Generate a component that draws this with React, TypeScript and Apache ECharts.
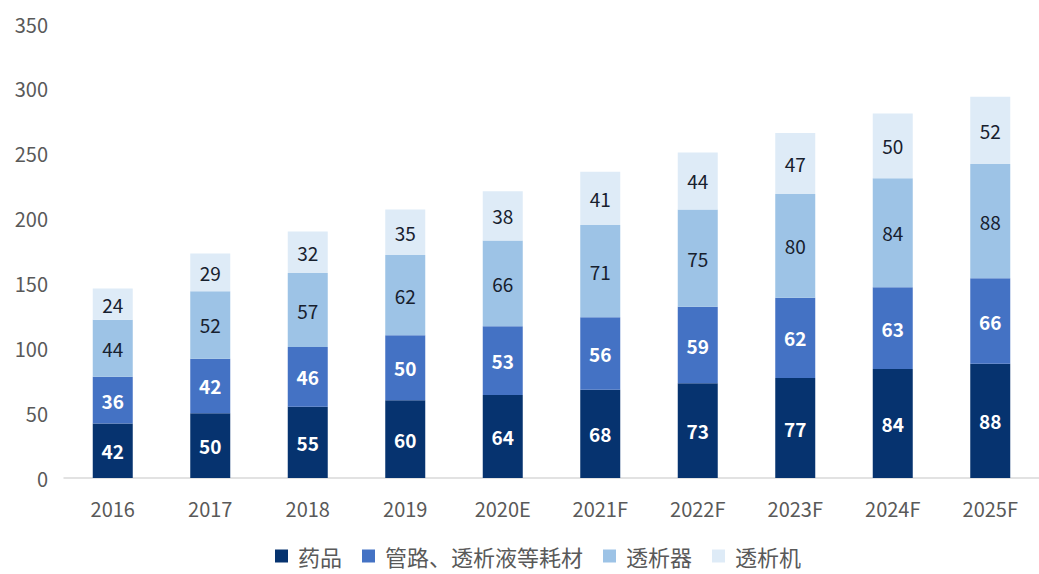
import React, { useEffect, useRef } from "react";
import * as echarts from "echarts";

const categories = ["2016", "2017", "2018", "2019", "2020E", "2021F", "2022F", "2023F", "2024F", "2025F"];
const seriesNames = ["药品", "管路、透析液等耗材", "透析器", "透析机"];
const drugs = [42, 50, 55, 60, 64, 68, 73, 77, 84, 88];
const consumables = [36, 42, 46, 50, 53, 56, 59, 62, 63, 66];
const dialyzers = [44, 52, 57, 62, 66, 71, 75, 80, 84, 88];
const machines = [24, 29, 32, 35, 38, 41, 44, 47, 50, 52];
const colors = ["#06336f", "#4472c4", "#9dc3e6", "#deebf7"];
const labelColors = ["#ffffff", "#ffffff", "#17202e", "#17202e"];
const labelWeights = ["bold", "bold", "normal", "normal"];

const FONT = "'Noto Sans CJK SC', 'Noto Sans', sans-serif";

export default function App() {
  const ref = useRef<HTMLDivElement>(null);
  useEffect(() => {
    if (!ref.current) return;
    const chart = echarts.init(ref.current, undefined, { renderer: "svg" });
    const data = [drugs, consumables, dialyzers, machines];
    chart.setOption({
      animation: false,
      textStyle: { fontFamily: FONT },
      grid: { left: 64, right: -8, top: 24, bottom: 96 },
      legend: {
        top: 539,
        left: 270,
        itemWidth: 13,
        itemHeight: 13,
        itemGap: 20,
        icon: "rect",
        textStyle: {
          fontSize: 22,
          lineHeight: 24,
          color: "#595959",
          fontFamily: FONT,
          padding: [0, 0, 0, 5],
        },
        data: seriesNames,
      },
      xAxis: {
        type: "category",
        data: categories,
        axisLine: { lineStyle: { color: "#d9d9d9", width: 1.5 } },
        axisTick: { show: false },
        axisLabel: { fontSize: 20, color: "#595959", margin: 20, fontFamily: FONT },
      },
      yAxis: {
        type: "value",
        min: 0,
        max: 350,
        interval: 50,
        splitLine: { show: false },
        axisLine: { show: false },
        axisTick: { show: false },
        axisLabel: { fontSize: 20, color: "#595959", margin: 16, fontFamily: FONT },
      },
      series: seriesNames.map((name, i) => ({
        name,
        type: "bar",
        stack: "total",
        barWidth: 40,
        data: data[i],
        itemStyle: { color: colors[i] },
        label: {
          show: true,
          position: "inside",
          fontSize: 19,
          color: labelColors[i],
          fontWeight: labelWeights[i],
          fontFamily: FONT,
        },
      })),
    });
    return () => chart.dispose();
  }, []);
  return (
    <div
      ref={ref}
      style={{ position: "absolute", left: 0, top: 0, width: 1039, height: 574, overflow: "hidden" }}
    />
  );
}
